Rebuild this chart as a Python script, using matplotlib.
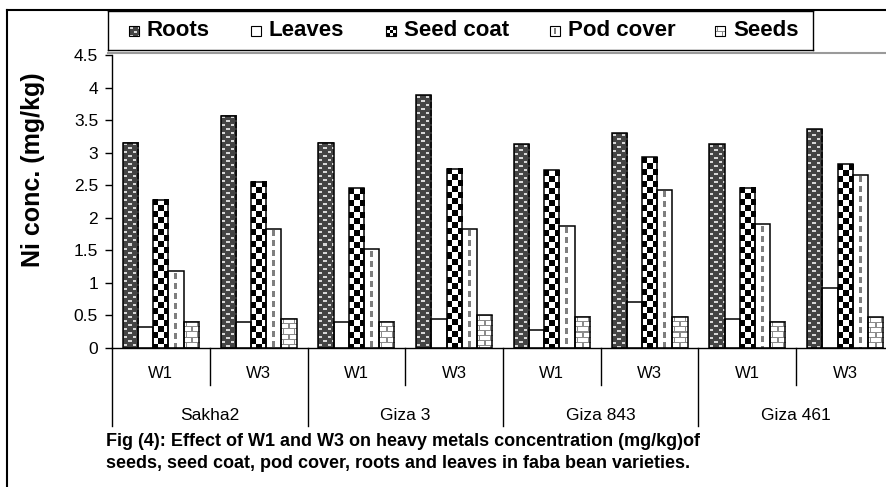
import numpy as np
import matplotlib
matplotlib.use('Agg')
import matplotlib.pyplot as plt
from matplotlib.patches import Rectangle
from matplotlib.lines import Line2D

plt.rcParams['font.family'] = ['Liberation Sans', 'DejaVu Sans']

# ---------------- data ----------------
varieties = ['Sakha2', 'Giza 3', 'Giza 843', 'Giza 461']
treatments = ['W1', 'W3']
series_names = ['Roots', 'Leaves', 'Seed coat', 'Pod cover', 'Seeds']
roots     = [3.15, 3.57, 3.15, 3.88, 3.13, 3.30, 3.13, 3.36]
leaves    = [0.32, 0.40, 0.40, 0.45, 0.27, 0.70, 0.45, 0.92]
seed_coat = [2.28, 2.55, 2.45, 2.75, 2.73, 2.93, 2.46, 2.82]
pod_cover = [1.18, 1.83, 1.52, 1.83, 1.88, 2.43, 1.90, 2.66]
seeds     = [0.40, 0.45, 0.40, 0.50, 0.48, 0.48, 0.40, 0.47]
ytick_vals = [0, 0.5, 1, 1.5, 2, 2.5, 3, 3.5, 4, 4.5]
ytick_labels = ['0', '0.5', '1', '1.5', '2', '2.5', '3', '3.5', '4', '4.5']
ylabel = 'Ni conc. (mg/kg)'
caption1 = 'Fig (4): Effect of W1 and W3 on heavy metals concentration (mg/kg)of'
caption2 = 'seeds, seed coat, pod cover, roots and leaves in faba bean varieties.'

# ---------------- textures ----------------
def tex_roots(h, w):
    img = np.full((h, w, 3), 0.27)
    yy, xx = np.mgrid[0:h, 0:w]
    ry, rx = yy % 8, xx % 8
    m = ((ry >= 1) & (ry <= 2) & (rx >= 1) & (rx <= 3)) | \
        ((ry >= 5) & (ry <= 6) & (rx >= 5) & (rx <= 7))
    img[m] = 0.85
    return img

def tex_leaves(h, w):
    return np.ones((h, w, 3))

def tex_checker(h, w, ch=6.0):
    img = np.ones((h, w, 3))
    yy, xx = np.mgrid[0:h, 0:w]
    cw = w / 3.0
    col = np.floor(xx / cw).astype(int)
    row = np.floor(yy / ch).astype(int)
    img[(col + row) % 2 == 0] = 0.0
    return img

def tex_pod(h, w):
    img = np.ones((h, w, 3))
    yy, xx = np.mgrid[0:h, 0:w]
    c = w // 2
    m = ((xx == c) | (xx == c - 1)) & ((yy % 10) >= 2) & ((yy % 10) < 8)
    img[m] = 0.5
    return img

def tex_bricks(h, w):
    img = np.ones((h, w, 3))
    yy, xx = np.mgrid[0:h, 0:w]
    row = yy // 5
    off = np.where(row % 2 == 0, 2, 7)
    m = (yy % 5 == 0) | (((xx - off) % 10) == 0)
    img[m] = 0.55
    return img

textures = [tex_roots, tex_leaves, tex_checker, tex_pod, tex_bricks]
data = [roots, leaves, seed_coat, pod_cover, seeds]

# ---------------- figure ----------------
W, H = 886, 487
fig = plt.figure(figsize=(W / 100, H / 100), dpi=100)
fig.patch.set_facecolor('white')

ax_l, ax_r, ax_b, ax_t = 112, 894, 348, 55
ax = fig.add_axes([ax_l / W, (H - ax_b) / H, (ax_r - ax_l) / W, (ax_b - ax_t) / H])
ncat = len(varieties) * len(treatments)
ax.set_xlim(0, ncat)
ax.set_ylim(0, 4.5)
px_per_x = (ax_r - ax_l) / ncat
px_per_y = (ax_b - ax_t) / 4.5

bw = 0.155
start = 0.1125
for j, (vals, tex) in enumerate(zip(data, textures)):
    xs = np.arange(ncat) + start + bw * (j + 0.5)
    for x, v in zip(xs, vals):
        wpx = max(int(round(bw * px_per_x)), 2)
        hpx = max(int(round(v * px_per_y)), 2)
        ax.imshow(tex(hpx, wpx), extent=(x - bw / 2, x + bw / 2, 0, v),
                  interpolation='nearest', aspect='auto', origin='upper', zorder=2)
    ax.bar(xs, vals, width=bw, facecolor='none', edgecolor='black',
           linewidth=1.1, zorder=3)

ax.set_xlim(0, ncat)
ax.set_ylim(0, 4.5)
ax.set_yticks(ytick_vals)
ax.set_yticklabels(ytick_labels)
ax.set_xticks([])
ax.tick_params(axis='y', direction='out', length=5, width=1, pad=5,
               labelsize=12.5, colors='black')
for s in ['top', 'right']:
    ax.spines[s].set_visible(False)
ax.spines['left'].set_linewidth(1.0)
ax.spines['bottom'].set_linewidth(1.0)

# multi-level category axis
trans = ax.get_xaxis_transform()
y_sub = (ax_b - 385) / (ax_b - ax_t)
y_grp = (ax_b - 426) / (ax_b - ax_t)
for k in range(ncat + 1):
    yb = y_grp if k % 2 == 0 else y_sub
    ax.plot([k, k], [0, yb], transform=trans, color='black', lw=1.0,
            clip_on=False)
y_wl = (ax_b - 373) / (ax_b - ax_t)
y_gl = (ax_b - 415) / (ax_b - ax_t)
for k in range(ncat):
    ax.text(k + 0.5, y_wl, treatments[k % 2], transform=trans, ha='center',
            va='center', fontsize=12)
for g, name in enumerate(varieties):
    ax.text(2 * g + 1, y_gl, name, transform=trans, ha='center', va='center',
            fontsize=12.5)

# y label
fig.text(33 / W, 1 - 170 / H, ylabel, rotation=90, ha='center', va='center',
         fontsize=18, fontweight='bold')

# caption
fig.text(106 / W, 1 - 442 / H, caption1, ha='left', va='center', fontsize=13,
         fontweight='bold')
fig.text(106 / W, 1 - 464 / H, caption2, ha='left', va='center', fontsize=13,
         fontweight='bold')

# frame lines
fig.add_artist(Line2D([6.5 / W, 6.5 / W], [0, 1 - 10 / H], transform=fig.transFigure,
                      color='black', lw=1.5))
fig.add_artist(Line2D([6.5 / W, 1], [1 - 10 / H, 1 - 10 / H], transform=fig.transFigure,
                      color='black', lw=1.5))
fig.add_artist(Line2D([108 / W, 1], [1 - 53 / H, 1 - 53 / H], transform=fig.transFigure,
                      color='#9a9a9a', lw=1.5))

# legend (manual box)
lx0, lx1, ly0, ly1 = 108, 813, 11, 50
lax = fig.add_axes([lx0 / W, (H - ly1) / H, (lx1 - lx0) / W, (ly1 - ly0) / H])
lax.set_xlim(lx0, lx1)
lax.set_ylim(ly1, ly0)
lax.set_xticks([])
lax.set_yticks([])
for s in lax.spines.values():
    s.set_linewidth(1.0)
    s.set_color('black')
box_x = [129, 251, 386, 550, 715]
bs = 10
cy = 31
for bx, name, tex in zip(box_x, series_names, textures):
    lax.imshow(tex(bs, bs) if tex is not tex_checker else tex_checker(bs, bs, ch=3.4),
               extent=(bx, bx + bs, cy + bs / 2, cy - bs / 2),
               interpolation='nearest', aspect='auto', origin='upper', zorder=2)
    lax.add_patch(Rectangle((bx, cy - bs / 2), bs, bs, facecolor='none',
                            edgecolor='black', lw=0.8, zorder=3))
    lax.text(bx + bs + 8, cy, name, ha='left', va='center', fontsize=16,
             fontweight='bold')
lax.set_xlim(lx0, lx1)
lax.set_ylim(ly1, ly0)

fig.savefig('out.png', dpi=100)
